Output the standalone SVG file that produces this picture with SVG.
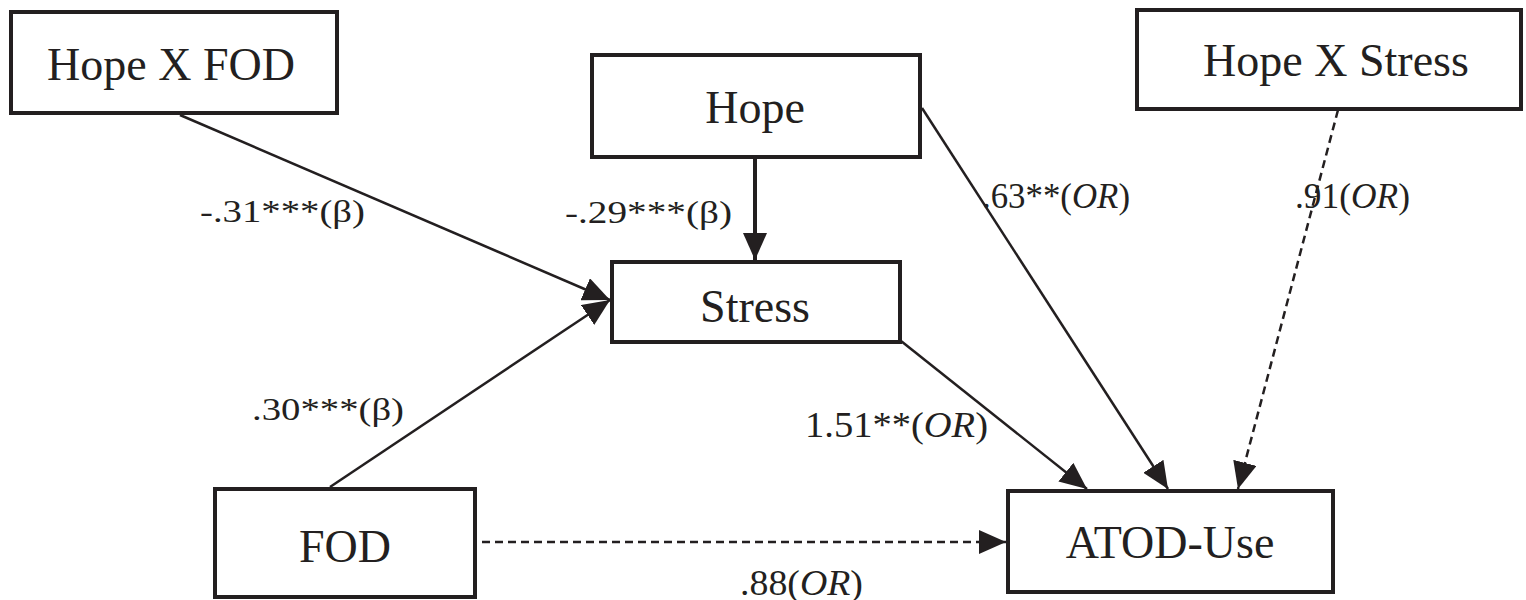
<svg xmlns="http://www.w3.org/2000/svg" width="1526" height="600" viewBox="0 0 1526 600">
<style>
.box{fill:#fff;stroke:#231f20;stroke-width:4}
.nt{font-family:'Liberation Serif','Times New Roman',serif;font-size:46px;fill:#231f20;text-anchor:middle}
.lb{font-family:'Liberation Serif','Times New Roman',serif;font-size:31px;fill:#231f20}
.or{font-family:'Liberation Serif','Times New Roman',serif;font-size:36px;fill:#231f20}
.ln{fill:none;stroke:#231f20;stroke-width:2.5}
.thick{stroke-width:4}
.dash{stroke-dasharray:8 5}
</style>
<defs>
<marker id="ah" markerUnits="userSpaceOnUse" markerWidth="27" markerHeight="24" refX="27" refY="12" orient="auto" viewBox="0 0 27 24">
<path d="M0,0 L27,12 L0,24 z" fill="#231f20"/>
</marker>
</defs>
<g id="connectors">
<line class="ln" x1="180" y1="115" x2="610" y2="300" marker-end="url(#ah)"/>
<line class="ln" x1="330" y1="487" x2="610" y2="300" marker-end="url(#ah)"/>
<line class="ln thick" x1="755" y1="157" x2="755" y2="260" marker-end="url(#ah)"/>
<line class="ln" x1="922" y1="108" x2="1168" y2="489" marker-end="url(#ah)"/>
<line class="ln" x1="901" y1="341" x2="1087" y2="489" marker-end="url(#ah)"/>
<line class="ln dash" x1="1338" y1="110" x2="1238" y2="489" marker-end="url(#ah)"/>
<line class="ln dash" x1="482" y1="542" x2="1006" y2="542" marker-end="url(#ah)"/>
<text class="lb" x="200" y="222" textLength="165" lengthAdjust="spacingAndGlyphs">-.31***(β)</text>
<text class="lb" x="565" y="223" textLength="167" lengthAdjust="spacingAndGlyphs">-.29***(β)</text>
<text class="lb" x="252" y="420" textLength="152" lengthAdjust="spacingAndGlyphs">.30***(β)</text>
<text class="or" x="982" y="208" textLength="148" lengthAdjust="spacingAndGlyphs">.63**(<tspan font-style="italic">OR</tspan>)</text>
<text class="or" x="1295" y="208" textLength="115" lengthAdjust="spacingAndGlyphs">.91(<tspan font-style="italic">OR</tspan>)</text>
<text class="or" x="805" y="437" textLength="183" lengthAdjust="spacingAndGlyphs">1.51**(<tspan font-style="italic">OR</tspan>)</text>
<text class="or" x="740" y="595" textLength="123" lengthAdjust="spacingAndGlyphs">.88(<tspan font-style="italic">OR</tspan>)</text>
</g>
<g id="hopexfod">
<rect class="box" x="11" y="12" width="326" height="101"/>
<text class="nt" x="171" y="80">Hope X FOD</text>
</g>
<g id="hope">
<rect class="box" x="592" y="55" width="328" height="102"/>
<text class="nt" x="755" y="123">Hope</text>
</g>
<g id="hopexstress">
<rect class="box" x="1137" y="10" width="384" height="99"/>
<text class="nt" x="1336" y="76">Hope X Stress</text>
</g>
<g id="stress">
<rect class="box" x="612" y="262" width="288" height="80"/>
<text class="nt" x="755" y="322">Stress</text>
</g>
<g id="fod">
<rect class="box" x="215" y="489" width="260" height="108"/>
<text class="nt" x="345" y="562">FOD</text>
</g>
<g id="atod">
<rect class="box" x="1008" y="491" width="325" height="101"/>
<text class="nt" x="1170" y="558">ATOD-Use</text>
</g>
</svg>
